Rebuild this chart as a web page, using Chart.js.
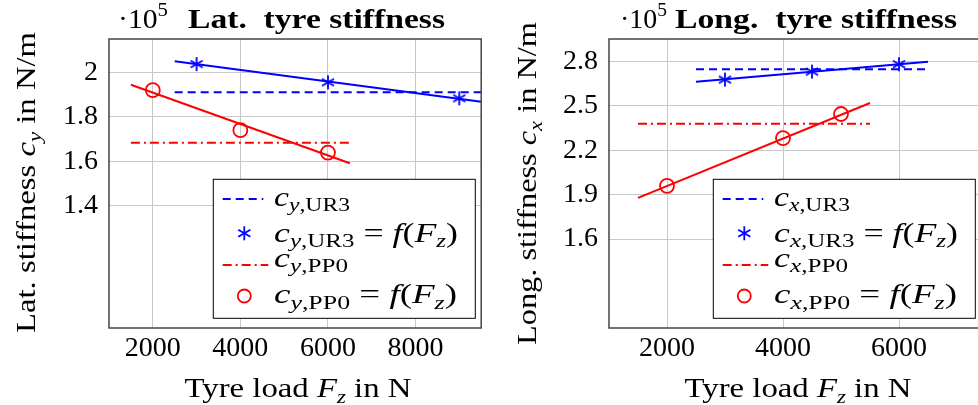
<!DOCTYPE html>
<html>
<head>
<meta charset="utf-8">
<script src="https://cdn.jsdelivr.net/npm/chart.js@4.4.1/dist/chart.umd.min.js"></script>
<style>
  html, body { margin: 0; padding: 0; background: #fff; width: 978px; height: 405px; overflow: hidden; }
  #left { position: absolute; left: 0; top: 0; }
  #rightWrap { position: absolute; left: 490px; top: 0; width: 488px; height: 405px; overflow: hidden; }
</style>
</head>
<body>
<canvas id="left" width="490" height="405"></canvas>
<div id="rightWrap"><canvas id="right" width="560" height="405"></canvas></div>
<script>
// stiffness values are in 1e5 N/m, loads in N

// lateral
const latLoadUR3 = [3000, 6000, 9000];
const latUR3 = [2.037, 1.955, 1.883];
const latLoadPP0 = [2000, 4000, 6000];
const latPP0 = [1.92, 1.74, 1.639];
const latFitLoadUR3 = [2500, 9500];
const latFitUR3 = [2.05, 1.868];
const latFitLoadPP0 = [1500, 6500];
const latFitPP0 = [1.944, 1.591];
const latMeanLoadUR3 = [2500, 9500];
const latMeanUR3 = [1.91, 1.91];
const latMeanLoadPP0 = [1500, 6500];
const latMeanPP0 = [1.683, 1.683];
const latXTicks = [2000, 4000, 6000, 8000];
const latYTicks = [1.4, 1.6, 1.8, 2];
const latYLabels = ['1.4', '1.6', '1.8', '2'];

// longitudinal
const lonLoadUR3 = [3000, 4500, 6000];
const lonUR3 = [2.676, 2.73, 2.78];
const lonLoadPP0 = [2000, 4000, 5000];
const lonPP0 = [1.959, 2.281, 2.444];
const lonFitLoadUR3 = [2500, 6500];
const lonFitUR3 = [2.662, 2.797];
const lonFitLoadPP0 = [1500, 5500];
const lonFitPP0 = [1.878, 2.518];
const lonMeanLoadUR3 = [2500, 6500];
const lonMeanUR3 = [2.746, 2.746];
const lonMeanLoadPP0 = [1500, 5500];
const lonMeanPP0 = [2.379, 2.379];
const lonXTicks = [2000, 4000, 6000, 8000];
const lonYTicks = [1.6, 1.9, 2.2, 2.5, 2.8];
const lonYLabels = ['1.6', '1.9', '2.2', '2.5', '2.8'];

const BLUE = '#0000ff';
const RED = '#ff0000';
const FONT = "'Liberation Serif', 'Times New Roman', serif";
const DASH = [8, 5];
const DASHDOT = [9, 4, 2, 4];

const pts = (xs, ys) => xs.map((x, i) => ({ x: x, y: ys[i] }));

function drawStar(g, x, y, r, color, lw) {
  g.save();
  g.strokeStyle = color;
  g.lineWidth = lw;
  for (let k = 0; k < 3; k++) {
    const a = Math.PI / 2 + k * Math.PI / 3;
    g.beginPath();
    g.moveTo(x + r * Math.cos(a), y + r * Math.sin(a));
    g.lineTo(x - r * Math.cos(a), y - r * Math.sin(a));
    g.stroke();
  }
  g.restore();
}

function makeStar(r, color, lw) {
  const c = document.createElement('canvas');
  const s = Math.ceil(2 * r + lw + 2);
  c.width = c.height = s;
  drawStar(c.getContext('2d'), s / 2, s / 2, r, color, lw);
  return c;
}
const starImg = makeStar(7, BLUE, 1.8);

function fontStr(r, size) {
  return (r.it ? 'italic ' : '') + (r.b ? 'bold ' : '') + size + 'px ' + FONT;
}

// draws a list of text runs (italic / sub / sup) starting at x, baseline y
function drawRich(ctx, runs, x, y, size, opt) {
  opt = opt || {};
  let w = 0;
  runs.forEach(r => {
    ctx.font = fontStr(r, size * (r.s || 1));
    r._w = ctx.measureText(r.t).width;
    w += r._w;
  });
  const sx = opt.fit ? opt.fit / w : 1;
  ctx.save();
  ctx.translate(x, y);
  if (opt.rot) ctx.rotate(opt.rot);
  ctx.scale(sx, 1);
  let cx = opt.align === 'center' ? -w / 2 : 0;
  ctx.textBaseline = 'alphabetic';
  ctx.textAlign = 'left';
  ctx.fillStyle = '#000';
  runs.forEach(r => {
    ctx.font = fontStr(r, size * (r.s || 1));
    ctx.fillText(r.t, cx, (r.dy || 0) * size);
    cx += r._w;
  });
  ctx.restore();
}

const sub = (t, it) => ({ t: t, it: it, s: 0.7, dy: 0.2 });
const cSym = (ax, name) => [{ t: 'c', it: true }, sub(ax, true), sub(',' + name, false)];
const fFz = [{ t: ' = ' }, { t: 'f', it: true }, { t: '(' }, { t: 'F', it: true }, sub('z', true), { t: ')' }];

function decoPlugin(o) {
  return {
    id: 'deco',
    afterDraw(chart) {
      const ctx = chart.ctx;
      const a = chart.chartArea;
      // frame
      ctx.save();
      ctx.strokeStyle = '#444';
      ctx.lineWidth = 1.5;
      ctx.strokeRect(a.left, a.top, a.right - a.left, a.bottom - a.top);
      ctx.restore();

      // scale factor and title
      drawRich(ctx, [{ t: '\u00B710' }, { t: '5', s: 0.7, dy: -0.42 }], o.expX, 28, 28, { fit: o.expW });
      drawRich(ctx, [{ t: o.title, b: true }], o.titleX, 28, 27, { fit: o.titleW });

      // axis titles
      drawRich(ctx, [{ t: 'Tyre load ' }, { t: 'F', it: true }, sub('z', true), { t: ' in N' }],
        o.xtX, 397, 28, { align: 'center', fit: 227 });
      drawRich(ctx, [{ t: o.yName + ' stiffness ' }, { t: 'c', it: true }, sub(o.ax, true), { t: ' in N/m' }],
        o.ytX, o.ytY, 28, { align: 'center', fit: o.ytW, rot: -Math.PI / 2 });

      // legend
      const bx = o.legX, by = 179.3;
      ctx.save();
      ctx.fillStyle = '#fff';
      ctx.fillRect(bx, by, 262, 139);
      ctx.strokeStyle = '#000';
      ctx.lineWidth = 1;
      ctx.strokeRect(bx, by, 262, 139);

      ctx.lineWidth = 2;
      ctx.strokeStyle = BLUE;
      ctx.setLineDash(DASH);
      ctx.beginPath(); ctx.moveTo(bx + 9.4, by + 19.7); ctx.lineTo(bx + 50, by + 19.7); ctx.stroke();
      ctx.strokeStyle = RED;
      ctx.setLineDash(DASHDOT);
      ctx.beginPath(); ctx.moveTo(bx + 9.4, by + 85.7); ctx.lineTo(bx + 55, by + 85.7); ctx.stroke();
      ctx.setLineDash([]);
      drawStar(ctx, bx + 31, by + 54, 7, BLUE, 1.8);
      ctx.strokeStyle = RED;
      ctx.lineWidth = 1.8;
      ctx.beginPath(); ctx.arc(bx + 31, by + 116.7, 6.5, 0, Math.PI * 2); ctx.stroke();
      ctx.restore();

      drawRich(ctx, cSym(o.ax, 'UR3'), bx + 60.7, by + 26.7, 27, { fit: 76 });
      drawRich(ctx, cSym(o.ax, 'UR3').concat(fFz), bx + 60.7, by + 62.4, 27, { fit: 184 });
      drawRich(ctx, cSym(o.ax, 'PP0'), bx + 60.7, by + 87.4, 27, { fit: 74 });
      drawRich(ctx, cSym(o.ax, 'PP0').concat(fFz), bx + 60.7, by + 124, 27, { fit: 183 });
    }
  };
}

function makeChart(id, d, o) {
  const lineDs = (data, color, dash) => ({
    data: data, showLine: true, borderColor: color, borderWidth: 2,
    borderDash: dash, pointRadius: 0, fill: false
  });
  return new Chart(document.getElementById(id), {
    type: 'scatter',
    data: {
      datasets: [
        lineDs(pts(d.meanLoadUR3, d.meanUR3), BLUE, DASH),
        lineDs(pts(d.fitLoadUR3, d.fitUR3), BLUE, []),
        lineDs(pts(d.meanLoadPP0, d.meanPP0), RED, DASHDOT),
        lineDs(pts(d.fitLoadPP0, d.fitPP0), RED, []),
        { data: pts(d.loadUR3, d.ur3), pointStyle: starImg, pointRadius: 7, showLine: false },
        { data: pts(d.loadPP0, d.pp0), pointStyle: 'circle', pointRadius: 7, borderWidth: 1.8,
          borderColor: RED, backgroundColor: 'rgba(0,0,0,0)', showLine: false }
      ]
    },
    options: {
      responsive: false,
      animation: false,
      layout: { padding: { left: 0, top: 39, right: o.padR, bottom: 37 } },
      plugins: { legend: { display: false }, tooltip: { enabled: false }, title: { display: false } },
      scales: {
        x: {
          type: 'linear', min: 1000, max: o.xMax,
          afterFit: s => { s.height = 40; },
          afterBuildTicks: s => { s.ticks = d.xTicks.map(v => ({ value: v })); },
          grid: { color: '#c8c8c8', lineWidth: 1, drawTicks: false },
          border: { display: false },
          ticks: { padding: 4, maxRotation: 0, autoSkip: false, color: '#000',
                   font: { family: FONT, size: 28 }, callback: v => String(v) }
        },
        y: {
          type: 'linear', min: o.yMin, max: o.yMax,
          afterFit: s => { s.width = o.left; },
          afterBuildTicks: s => { s.ticks = d.yTicks.map(v => ({ value: v })); },
          grid: { color: '#c8c8c8', lineWidth: 1, drawTicks: false },
          border: { display: false },
          ticks: { padding: 11, color: '#000', font: { family: FONT, size: 28 },
                   callback: v => d.yLabels[d.yTicks.indexOf(v)] }
        }
      }
    },
    plugins: [decoPlugin(o)]
  });
}

makeChart('left', {
  loadUR3: latLoadUR3, ur3: latUR3, loadPP0: latLoadPP0, pp0: latPP0,
  fitLoadUR3: latFitLoadUR3, fitUR3: latFitUR3, fitLoadPP0: latFitLoadPP0, fitPP0: latFitPP0,
  meanLoadUR3: latMeanLoadUR3, meanUR3: latMeanUR3, meanLoadPP0: latMeanLoadPP0, meanPP0: latMeanPP0,
  xTicks: latXTicks, yTicks: latYTicks, yLabels: latYLabels
}, {
  left: 109, padR: 3, xMax: 9500, yMin: 0.85, yMax: 2.15,
  expX: 118, expW: 50, title: 'Lat.  tyre stiffness', titleX: 188, titleW: 257,
  xtX: 298, ytX: 35, ytY: 182.5, ytW: 301, yName: 'Lat.', ax: 'y', legX: 213.3
});

makeChart('right', {
  loadUR3: lonLoadUR3, ur3: lonUR3, loadPP0: lonLoadPP0, pp0: lonPP0,
  fitLoadUR3: lonFitLoadUR3, fitUR3: lonFitUR3, fitLoadPP0: lonFitLoadPP0, fitPP0: lonFitPP0,
  meanLoadUR3: lonMeanLoadUR3, meanUR3: lonMeanUR3, meanLoadPP0: lonMeanLoadPP0, meanPP0: lonMeanPP0,
  xTicks: lonXTicks, yTicks: lonYTicks, yLabels: lonYLabels
}, {
  left: 119, padR: 35, xMax: 8000, yMin: 1.0, yMax: 2.95,
  expX: 130, expW: 47, title: 'Long.  tyre stiffness', titleX: 185, titleW: 282,
  xtX: 308, ytX: 46, ytY: 183.5, ytW: 323, yName: 'Long.', ax: 'x', legX: 223.3
});
</script>
</body>
</html>
